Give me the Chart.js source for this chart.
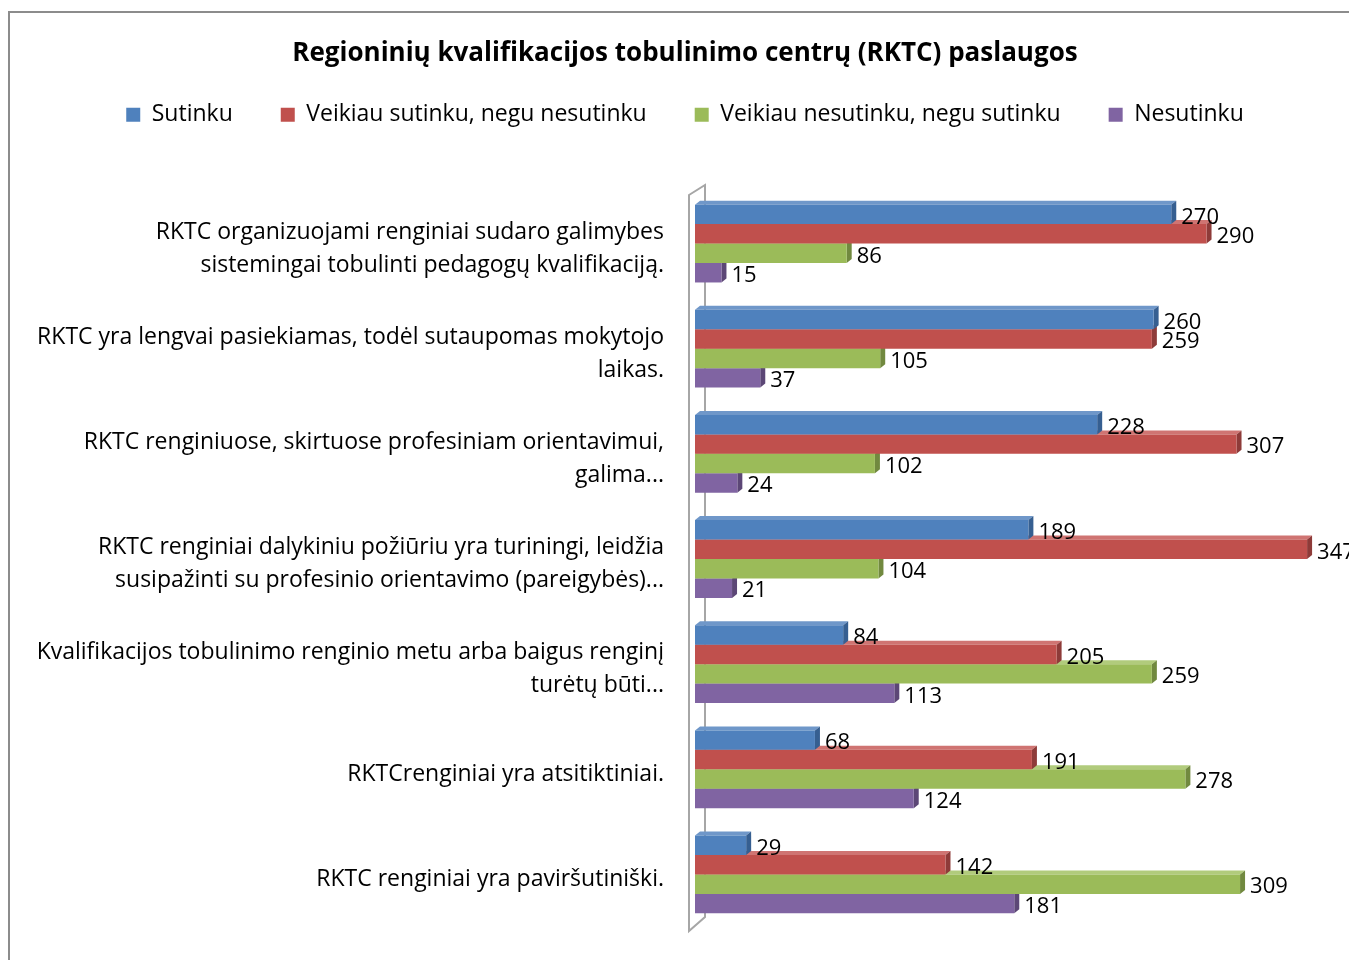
<!DOCTYPE html>
<html>
<head>
<meta charset="utf-8">
<script src="https://cdn.jsdelivr.net/npm/chart.js@4/dist/chart.umd.min.js"></script>
<style>
  html, body { margin: 0; padding: 0; background: #fff; overflow: hidden; }
  #frame {
    position: absolute; left: 8px; top: 11px;
    width: 1400px; height: 1000px;
    border-left: 2px solid #8c8c8c; border-top: 2px solid #8c8c8c;
  }
  #chart { position: absolute; left: 0; top: 0; }
</style>
</head>
<body>
<div id="frame"><canvas id="chart" width="1350" height="978"></canvas></div>
<script>
// chart data
var title = 'Regioninių kvalifikacijos tobulinimo centrų (RKTC) paslaugos';
var categories = [
    ['RKTC organizuojami renginiai sudaro galimybes', 'sistemingai tobulinti pedagogų kvalifikaciją.'],
    ['RKTC yra lengvai pasiekiamas, todėl sutaupomas mokytojo', 'laikas.'],
    ['RKTC renginiuose, skirtuose profesiniam orientavimui,', 'galima...'],
    ['RKTC renginiai dalykiniu požiūriu yra turiningi, leidžia', 'susipažinti su profesinio orientavimo (pareigybės)...'],
    ['Kvalifikacijos tobulinimo renginio metu arba baigus renginį', 'turėtų būti...'],
    'RKTCrenginiai yra atsitiktiniai.',
    'RKTC renginiai yra paviršutiniški.'
];
var seriesNames = ['Sutinku', 'Veikiau sutinku, negu nesutinku', 'Veikiau nesutinku, negu sutinku', 'Nesutinku'];
var sutinku = [270, 260, 228, 189, 84, 68, 29];
var veikiauSutinku = [290, 259, 307, 347, 205, 191, 142];
var veikiauNesutinku = [86, 105, 102, 104, 259, 278, 309];
var nesutinku = [15, 37, 24, 21, 113, 124, 181];

var colors = ['#4f81bd', '#c0504d', '#9bbb59', '#8064a2'];
var sideColors = ['#365f91', '#8e3b39', '#71893f', '#5c4776'];
var topColors = ['#6f97c9', '#cf7472', '#b1cb7c', '#9a83b8'];

var FONT = '"Open Sans"';
var depthX = 5, depthY = 4;

// gray wall behind the bars
var wallPlugin = {
    id: 'wall',
    beforeDatasetsDraw: function(chart) {
        var ctx = chart.ctx, a = chart.chartArea;
        var x0 = a.left - 6, x1 = a.left + 10;
        ctx.save();
        ctx.strokeStyle = '#a6a6a6';
        ctx.lineWidth = 2;
        ctx.beginPath();
        ctx.moveTo(x0, a.top + 4);
        ctx.lineTo(x1, a.top - 6);
        ctx.lineTo(x1, a.bottom - 10);
        ctx.lineTo(x0, a.bottom + 4);
        ctx.closePath();
        ctx.stroke();
        ctx.restore();
    }
};

// side and top faces of the bars, plus value labels
var depthPlugin = {
    id: 'depth',
    beforeDatasetsDraw: function(chart) {
        var ctx = chart.ctx;
        ctx.save();
        for (var d = chart.data.datasets.length - 1; d >= 0; d--) {
            var meta = chart.getDatasetMeta(d);
            meta.data.forEach(function(bar) {
                var p = bar.getProps(['x', 'y', 'base', 'height'], true);
                var yt = p.y - p.height / 2, yb = p.y + p.height / 2;
                ctx.fillStyle = topColors[d];
                ctx.beginPath();
                ctx.moveTo(p.base, yt);
                ctx.lineTo(p.base + depthX, yt - depthY);
                ctx.lineTo(p.x + depthX, yt - depthY);
                ctx.lineTo(p.x, yt);
                ctx.closePath();
                ctx.fill();
                ctx.fillStyle = sideColors[d];
                ctx.beginPath();
                ctx.moveTo(p.x, yt);
                ctx.lineTo(p.x + depthX, yt - depthY);
                ctx.lineTo(p.x + depthX, yb - depthY);
                ctx.lineTo(p.x, yb);
                ctx.closePath();
                ctx.fill();
            });
        }
        ctx.restore();
    },
    afterDatasetsDraw: function(chart) {
        var ctx = chart.ctx;
        ctx.save();
        ctx.font = '22px ' + FONT;
        ctx.fillStyle = '#000';
        ctx.textAlign = 'left';
        ctx.textBaseline = 'middle';
        chart.data.datasets.forEach(function(ds, d) {
            chart.getDatasetMeta(d).data.forEach(function(bar, i) {
                ctx.fillText(ds.data[i], bar.x + 10, bar.y + 3);
            });
        });
        ctx.restore();
    }
};

var ctx = document.getElementById('chart').getContext('2d');
var chart = new Chart(ctx, {
    type: 'bar',
    data: {
        labels: categories,
        datasets: [
            { label: seriesNames[0], data: sutinku, backgroundColor: colors[0] },
            { label: seriesNames[1], data: veikiauSutinku, backgroundColor: colors[1] },
            { label: seriesNames[2], data: veikiauNesutinku, backgroundColor: colors[2] },
            { label: seriesNames[3], data: nesutinku, backgroundColor: colors[3] },
        ],
    },
    options: {
        indexAxis: 'y',
        responsive: false,
        animation: false,
        layout: { padding: { top: 25, bottom: 6, left: 0, right: 0 } },
        datasets: {
            bar: { barPercentage: 1.0, categoryPercentage: 0.74, borderWidth: 0 },
        },
        plugins: {
            title: {
                display: true,
                text: title,
                color: '#000',
                font: { family: FONT, size: 26, weight: 'bold' },
                padding: { top: 0, bottom: -14 },
            },
            subtitle: {
                display: true,
                text: '',
                weight: 500,
                padding: { top: 0, bottom: 38 },
                font: { size: 14 },
            },
            legend: {
                position: 'top',
                labels: {
                    boxWidth: 14,
                    boxHeight: 14,
                    padding: 48,
                    color: '#000',
                    font: { family: FONT, size: 23 },
                },
            },
            tooltip: { enabled: false },
        },
        scales: {
            x: {
                display: false,
                min: 0,
                max: 377,
            },
            y: {
                grid: { display: false, drawTicks: false },
                border: { display: false },
                ticks: {
                    color: '#000',
                    padding: 31,
                    labelOffset: 5,
                    font: { family: FONT, size: 23, lineHeight: 1.435 },
                },
                afterFit: function(scale) { scale.width = 685; },
            },
        },
    },
    plugins: [wallPlugin, depthPlugin],
});
</script>
</body>
</html>
